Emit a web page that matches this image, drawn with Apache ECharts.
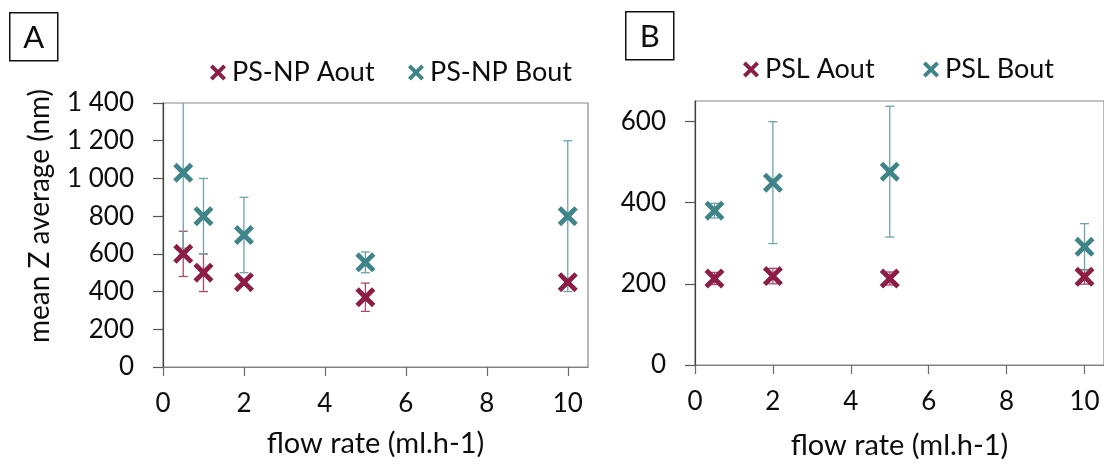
<!DOCTYPE html>
<html>
<head>
<meta charset="utf-8">
<script src="https://cdn.jsdelivr.net/npm/echarts@6/dist/echarts.min.js"></script>
<style>
html,body{margin:0;padding:0;background:#fff;}
#c{width:1104px;height:465px;}
</style>
</head>
<body>
<div id="c"></div>
<script>
// ---- data ----
const flowA = [0.5, 1, 2, 5, 10];
const aoutA = [600, 500, 450, 370, 450];
const aoutAErr = [120, 100, 15, 75, 15];
const boutA = [1030, 800, 700, 555, 800];
const boutAErr = [400, 200, 200, 55, 400];

const flowB = [0.5, 2, 5, 10];
const aoutB = [213, 219, 213, 217];
const aoutBErr = [15, 19, 16, 18];
const boutB = [380, 449, 476, 291];
const boutBErr = [18, 150, 161, 57];

const xTicks = [0, 2, 4, 6, 8, 10];
const yTicksA = [0, 200, 400, 600, 800, 1000, 1200, 1400];
const yTicksB = [0, 200, 400, 600];

const namesA = ['PS-NP Aout', 'PS-NP Bout'];
const namesB = ['PSL Aout', 'PSL Bout'];
const xTitle = 'flow rate (ml.h-1)';
const yTitle = 'mean Z average (nm)';
const panelLabels = ['A', 'B'];

// ---- style ----
const FONT = 'Lato';
const TXT = '#0d0d0d';
const C_A = '#8c1d44';
const C_B = '#3e8489';
const C_A_ERR = '#a84a6a';
const C_B_ERR = '#6ea3a8';
const XSYM = 'path://M0,17 L17,0 L50,33 L83,0 L100,17 L67,50 L100,83 L83,100 L50,67 L17,100 L0,83 L33,50 Z';

function fmtNum(v) {
  if (v >= 1000) return Math.floor(v / 1000) + ' ' + String(v % 1000).padStart(3, '0');
  return String(v);
}

function pts(xs, ys) { return xs.map((x, i) => [x, ys[i]]); }
function errPts(xs, ys, es) { return xs.map((x, i) => [x, ys[i] - es[i], ys[i] + es[i]]); }

function errRender(color) {
  return function (params, api) {
    const x = api.value(0), lo = api.value(1), hi = api.value(2);
    const p1 = api.coord([x, lo]);
    const p2 = api.coord([x, hi]);
    const hw = 4.5;
    const st = { stroke: color, lineWidth: 1.3, fill: null };
    return {
      type: 'group',
      children: [
        { type: 'line', shape: { x1: p1[0], y1: p1[1], x2: p2[0], y2: p2[1] }, style: st },
        { type: 'line', shape: { x1: p1[0] - hw, y1: p1[1], x2: p1[0] + hw, y2: p1[1] }, style: st },
        { type: 'line', shape: { x1: p2[0] - hw, y1: p2[1], x2: p2[0] + hw, y2: p2[1] }, style: st }
      ]
    };
  };
}

function xAxisCfg(gridIndex, nameGap) {
  return {
    type: 'value', gridIndex: gridIndex, min: 0, max: 10.5, interval: 2,
    splitLine: { show: false },
    axisLine: { show: true, onZero: false, lineStyle: { color: '#808080', width: 1.2 } },
    axisTick: { show: true, inside: false, length: 9, customValues: xTicks, lineStyle: { color: '#6a6a6a', width: 1.2 } },
    axisLabel: { customValues: xTicks, margin: 24, color: TXT, fontFamily: FONT, fontSize: 26 },
    name: xTitle, nameLocation: 'middle', nameGap: nameGap,
    nameTextStyle: { color: TXT, fontFamily: FONT, fontSize: 29 }
  };
}

function yAxisCfg(gridIndex, max, ticks) {
  return {
    type: 'value', gridIndex: gridIndex, min: 0, max: max, interval: 200,
    splitLine: { show: false },
    axisLine: { show: true, onZero: false, lineStyle: { color: '#404040', width: 1.2 } },
    axisTick: { show: true, inside: false, length: 10, customValues: ticks, lineStyle: { color: '#555', width: 1.2 } },
    axisLabel: { customValues: ticks, margin: 29, color: TXT, fontFamily: FONT, fontSize: 26, formatter: fmtNum }
  };
}

function legendCfg(name, color, left, top) {
  return {
    data: [{ name: name, icon: XSYM, itemStyle: { color: color } }],
    left: left, top: top, itemWidth: 16, itemHeight: 16, itemGap: 0,
    selectedMode: false,
    textStyle: { color: TXT, fontFamily: FONT, fontSize: 27, padding: [0, 0, 0, 1] }
  };
}

function boxLabel(txt, x, y) {
  return {
    type: 'group', left: x, top: y,
    children: [
      { type: 'rect', shape: { x: 0, y: 0, width: 48, height: 48 }, style: { fill: '#fff', stroke: '#111', lineWidth: 1.5 } },
      { type: 'text', x: 24, y: 25, style: { text: txt, fill: TXT, font: '31px ' + FONT, textAlign: 'center', textVerticalAlign: 'middle' } }
    ]
  };
}

const chart = echarts.init(document.getElementById('c'), null, { renderer: 'canvas' });

const option = {
  animation: false,
  backgroundColor: '#fff',
  grid: [
    { left: 163, top: 103, width: 425, height: 264, show: true, borderColor: '#8a8a8a', borderWidth: 1.2, backgroundColor: 'transparent' },
    { left: 695, top: 101, width: 411, height: 270, show: true, borderColor: '#8a8a8a', borderWidth: 1.2, backgroundColor: 'transparent' }
  ],
  xAxis: [xAxisCfg(0, 62), xAxisCfg(1, 66)],
  yAxis: [yAxisCfg(0, 1400, yTicksA), yAxisCfg(1, 650, yTicksB)],
  legend: [
    legendCfg(namesA[0], C_A, 205, 54),
    legendCfg(namesA[1], C_B, 403, 54),
    legendCfg(namesB[0], C_A, 738, 51),
    legendCfg(namesB[1], C_B, 918, 51)
  ],
  graphic: [
    boxLabel(panelLabels[0], 9, 12),
    boxLabel(panelLabels[1], 625, 11),
    { type: 'text', x: 40, y: 216, rotation: Math.PI / 2,
      style: { text: yTitle, fill: TXT, font: '28px ' + FONT, textAlign: 'center', textVerticalAlign: 'middle' } }
  ],
  series: [
    { type: 'custom', name: 'errA_aout', xAxisIndex: 0, yAxisIndex: 0, clip: true, z: 1,
      renderItem: errRender(C_A_ERR), encode: { x: 0, y: [1, 2] }, data: errPts(flowA, aoutA, aoutAErr) },
    { type: 'custom', name: 'errA_bout', xAxisIndex: 0, yAxisIndex: 0, clip: true, z: 1,
      renderItem: errRender(C_B_ERR), encode: { x: 0, y: [1, 2] }, data: errPts(flowA, boutA, boutAErr) },
    { type: 'scatter', name: namesA[1], xAxisIndex: 0, yAxisIndex: 0, symbol: XSYM, symbolSize: 20, z: 3,
      itemStyle: { color: C_B, opacity: 1 }, data: pts(flowA, boutA) },
    { type: 'scatter', name: namesA[0], xAxisIndex: 0, yAxisIndex: 0, symbol: XSYM, symbolSize: 20, z: 4,
      itemStyle: { color: C_A, opacity: 1 }, data: pts(flowA, aoutA) },

    { type: 'custom', name: 'errB_aout', xAxisIndex: 1, yAxisIndex: 1, clip: true, z: 1,
      renderItem: errRender(C_A_ERR), encode: { x: 0, y: [1, 2] }, data: errPts(flowB, aoutB, aoutBErr) },
    { type: 'custom', name: 'errB_bout', xAxisIndex: 1, yAxisIndex: 1, clip: true, z: 1,
      renderItem: errRender(C_B_ERR), encode: { x: 0, y: [1, 2] }, data: errPts(flowB, boutB, boutBErr) },
    { type: 'scatter', name: namesB[1], xAxisIndex: 1, yAxisIndex: 1, symbol: XSYM, symbolSize: 20, z: 3,
      itemStyle: { color: C_B, opacity: 1 }, data: pts(flowB, boutB) },
    { type: 'scatter', name: namesB[0], xAxisIndex: 1, yAxisIndex: 1, symbol: XSYM, symbolSize: 20, z: 4,
      itemStyle: { color: C_A, opacity: 1 }, data: pts(flowB, aoutB) }
  ]
};
chart.setOption(option);
</script>
</body>
</html>
